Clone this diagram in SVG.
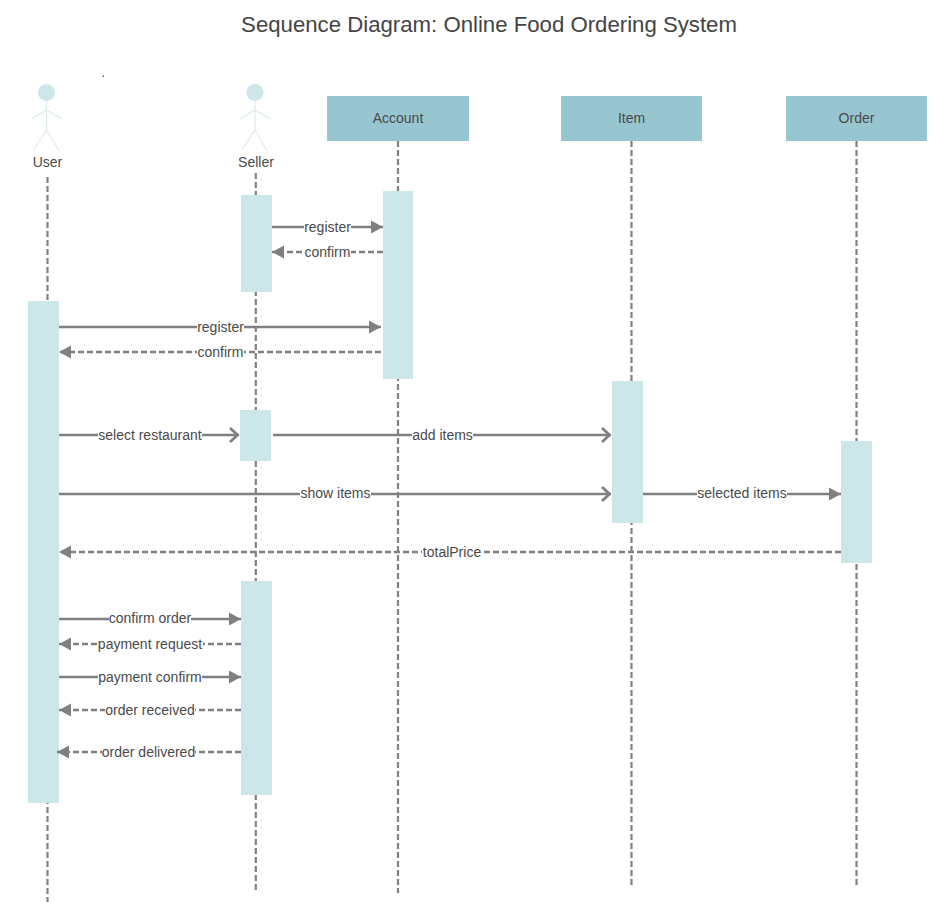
<svg xmlns="http://www.w3.org/2000/svg" width="939" height="915" viewBox="0 0 939 915">
<style>
text{font-family:"Liberation Sans",Arial,sans-serif;font-size:14px;fill:#4a4a4a;text-anchor:middle}
.title{font-size:22.200px;fill:#444}
.life{stroke:#808080;stroke-width:2.200;stroke-dasharray:6 3;fill:none}
.bar{fill:#cde6e9}
.head{fill:#97c6d1}
.stick{stroke:#dcebed;stroke-width:1.200;fill:none}
.msg{stroke:#808080;stroke-width:2.500;fill:none}
.ret{stroke:#808080;stroke-width:2.500;stroke-dasharray:6 3;fill:none}
.bg{fill:#fff}
</style>
<defs>
<marker id="tri" markerUnits="userSpaceOnUse" markerWidth="14" markerHeight="14" refX="12" refY="7" orient="auto"><path d="M0 0.500 L12 7 L0 13.500Z" fill="#808080"/></marker>
<marker id="open" markerUnits="userSpaceOnUse" markerWidth="14" markerHeight="18" refX="12" refY="9" orient="auto"><path d="M3 2 L10.500 9 L3 16" fill="none" stroke="#808080" stroke-width="2.800"/></marker>
</defs>
<rect width="939" height="915" fill="#fff"/>
<text class="title" x="489" y="32">Sequence Diagram: Online Food Ordering System</text>
<rect x="102.500" y="75.500" width="1.500" height="1.500" fill="#666"/>
<g id="lifelines">
<line class="life" x1="47.500" y1="177" x2="47.500" y2="902"/>
<line class="life" x1="255.800" y1="173" x2="255.800" y2="893"/>
<line class="life" x1="398" y1="141" x2="398" y2="893"/>
<line class="life" x1="631.500" y1="141" x2="631.500" y2="886"/>
<line class="life" x1="856.500" y1="141" x2="856.500" y2="886"/>
</g>
<g id="user"><circle cx="46.500" cy="92.500" r="8.500" class="bar"/><path class="stick" d="M46.500 101V130M31.500 119L46.500 110L62 119M33 151L46.500 130L59 151"/><text x="47.500" y="167">User</text></g>
<g id="seller"><circle cx="255" cy="92.500" r="8.500" class="bar"/><path class="stick" d="M255 101V130M240 119L255 110L271 119M241.500 151L255 130L267 151"/><text x="256" y="167">Seller</text></g>
<g id="account"><rect class="head" x="327" y="96" width="142" height="45"/><text x="398" y="123">Account</text></g>
<g id="item"><rect class="head" x="561" y="96" width="141" height="45"/><text x="631.500" y="123">Item</text></g>
<g id="order"><rect class="head" x="786" y="96" width="141" height="45"/><text x="856.500" y="123">Order</text></g>
<g id="activations">
<rect class="bar" x="28" y="301" width="31" height="502"/>
<rect class="bar" x="241" y="195" width="31" height="97"/>
<rect class="bar" x="383" y="191" width="30" height="188"/>
<rect class="bar" x="240" y="410" width="31" height="51"/>
<rect class="bar" x="612" y="381" width="31" height="142"/>
<rect class="bar" x="841" y="441" width="31" height="122"/>
<rect class="bar" x="241" y="581" width="31" height="214"/>
</g>
<g id="connectors">
<line class="msg" x1="272" y1="227" x2="383" y2="227" marker-end="url(#tri)"/>
<line class="ret" x1="383" y1="252" x2="272" y2="252" marker-end="url(#tri)"/>
<line class="msg" x1="59" y1="327" x2="381" y2="327" marker-end="url(#tri)"/>
<line class="ret" x1="381" y1="352" x2="59" y2="352" marker-end="url(#tri)"/>
<line class="msg" x1="59" y1="435" x2="239" y2="435" marker-end="url(#open)"/>
<line class="msg" x1="273" y1="435" x2="611" y2="435" marker-end="url(#open)"/>
<line class="msg" x1="59" y1="494" x2="611" y2="494" marker-end="url(#open)"/>
<line class="msg" x1="643" y1="494" x2="841" y2="494" marker-end="url(#tri)"/>
<line class="ret" x1="841" y1="552" x2="59" y2="552" marker-end="url(#tri)"/>
<line class="msg" x1="59" y1="619" x2="241" y2="619" marker-end="url(#tri)"/>
<line class="ret" x1="241" y1="644" x2="59" y2="644" marker-end="url(#tri)"/>
<line class="msg" x1="59" y1="677" x2="241" y2="677" marker-end="url(#tri)"/>
<line class="ret" x1="241" y1="710" x2="59" y2="710" marker-end="url(#tri)"/>
<line class="ret" x1="241" y1="752" x2="57" y2="752" marker-end="url(#tri)"/>
</g>
<g id="labels">
<rect class="bg" x="304" y="219" width="47" height="16"/><text x="327.500" y="232">register</text>
<rect class="bg" x="304" y="244" width="47" height="16"/><text x="327.500" y="257">confirm</text>
<rect class="bg" x="197" y="319" width="47" height="16"/><text x="220.500" y="332">register</text>
<rect class="bg" x="197" y="344" width="47" height="16"/><text x="220.500" y="357">confirm</text>
<rect class="bg" x="98" y="427" width="104" height="16"/><text x="150" y="440">select restaurant</text>
<rect class="bg" x="412" y="427" width="61" height="16"/><text x="442.500" y="440">add items</text>
<rect class="bg" x="300" y="486" width="71" height="16"/><text x="335.500" y="498">show items</text>
<rect class="bg" x="697" y="486" width="90" height="16"/><text x="742" y="498">selected items</text>
<rect class="bg" x="422" y="544" width="60" height="16"/><text x="452" y="557">totalPrice</text>
<rect class="bg" x="109" y="611" width="82" height="16"/><text x="150" y="623">confirm order</text>
<rect class="bg" x="98" y="636" width="105" height="16"/><text x="150" y="649">payment request</text>
<rect class="bg" x="98" y="669" width="104" height="16"/><text x="150" y="682">payment confirm</text>
<rect class="bg" x="105" y="702" width="90" height="16"/><text x="150" y="715">order received</text>
<rect class="bg" x="102" y="744" width="93" height="16"/><text x="148.500" y="757">order delivered</text>
</g>
</svg>
